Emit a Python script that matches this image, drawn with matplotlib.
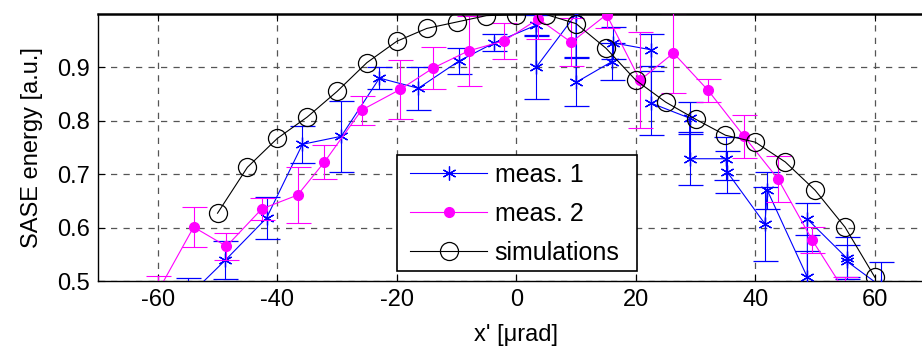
import numpy as np
import matplotlib.pyplot as plt
from matplotlib.lines import Line2D
from matplotlib.patches import Rectangle

plt.rcParams['font.family'] = ['Liberation Sans', 'DejaVu Sans']
plt.rcParams['axes.unicode_minus'] = False

# simulated SASE energy vs. angle
sim_x = [-50, -45, -40, -35, -30, -25, -20, -15, -10, -5, 0, 5,
         10, 15, 20, 25, 30, 35, 40, 45, 50, 55, 60]
sim_y = [0.627, 0.713, 0.767, 0.807, 0.855, 0.909, 0.949, 0.973, 0.985, 0.997, 0.999, 0.999,
         0.982, 0.936, 0.876, 0.835, 0.803, 0.773, 0.760, 0.723, 0.670, 0.601, 0.507]

# measurement 1 (two shots at most positions)
m1_x = [-55, -48.7, -41.8, -35.8, -29.3, -22.9, -16.4, -9.6, -3.7, 3.3, 3.3, 10, 10,
        16.0, 16.2, 22.6, 22.6, 29, 29, 35.1, 35.3, 41.6, 42, 48.7, 48.7, 55.3, 55.3, 61]
m1_y = [0.47, 0.539, 0.618, 0.756, 0.771, 0.880, 0.861, 0.912, 0.946, 0.979, 0.900, 1.0, 0.872,
        0.911, 0.946, 0.933, 0.833, 0.805, 0.729, 0.729, 0.704, 0.607, 0.670, 0.507, 0.616, 0.543, 0.537, 0.49]
m1_err = [0.036, 0.036, 0.04, 0.035, 0.066, 0.02, 0.04, 0.025, 0.016, 0.02, 0.06, 0.08, 0.045,
          0.035, 0.03, 0.03, 0.06, 0.03, 0.05, 0.04, 0.04, 0.07, 0.035, 0.05, 0.03, 0.04, 0.03, 0.045]

# measurement 2
m2_x = [-60, -54, -48.5, -42.6, -36.6, -32.1, -25.9, -19.4, -13.9, -8.0, -2.0,
        3.7, 9.2, 15.1, 20.7, 26.3, 32.1, 38.1, 43.8, 49.5, 55.0]
m2_y = [0.48, 0.601, 0.565, 0.635, 0.661, 0.723, 0.820, 0.859, 0.899, 0.931, 0.950,
        0.991, 0.947, 0.999, 0.876, 0.927, 0.857, 0.771, 0.691, 0.577, 0.48]
m2_err = [0.029, 0.038, 0.025, 0.02, 0.052, 0.032, 0.027, 0.055, 0.04, 0.065, 0.034,
          0.037, 0.045, 0.026, 0.09, 0.075, 0.022, 0.04, 0.043, 0.025, 0.028]

BLUE = '#0000ff'
MAG = '#ff00ff'
STAR = (6, 2, 0)

fig = plt.figure(figsize=(9.22, 3.49), dpi=100)
ax = fig.add_axes([0.1063, 0.1948, 0.9074, 0.765])

ax.errorbar(m1_x, m1_y, yerr=m1_err, color=BLUE, elinewidth=0.8, lw=0.8,
            marker=STAR, ms=10, mew=0.9, capsize=9, capthick=0.8, zorder=3)
ax.errorbar(m2_x, m2_y, yerr=m2_err, color=MAG, elinewidth=0.8, lw=0.8,
            marker='o', ms=7, capsize=9, capthick=0.8, zorder=4)
ax.plot(sim_x, sim_y, color='k', lw=0.8, marker='o', ms=13, mfc='none', mec='k',
        mew=0.9, zorder=5)

ax.set_xlim(-70, 70)
ax.set_ylim(0.5, 1.0)
ax.set_xticks(np.arange(-60, 61, 20))
ax.set_yticks([0.5, 0.6, 0.7, 0.8, 0.9])
ax.grid(True, color='#555555', linestyle=(0, (5, 5)), linewidth=0.9)
ax.tick_params(direction='in', length=5, labelsize=17, top=True, right=True, pad=6)
for s in ax.spines.values():
    s.set_linewidth(1.0)
ax.spines['top'].set_linewidth(1.8)

ax.set_xlabel("x' [\u03bcrad]", fontsize=17, labelpad=9)
ax.set_ylabel('SASE energy [a.u.]', fontsize=17, labelpad=10)

# legend: own box so the padding can differ left/right vs. top/bottom
box = Rectangle((0.357, 0.0375), 0.287, 0.434, transform=ax.transAxes,
                facecolor='white', edgecolor='k', lw=1.2, zorder=6)
ax.add_patch(box)
handles = [
    Line2D([], [], color=BLUE, lw=0.8, marker=STAR, ms=10, mew=0.9),
    Line2D([], [], color=MAG, lw=0.8, marker='o', ms=7),
    Line2D([], [], color='k', lw=0.8, marker='o', ms=13, mfc='none', mew=0.9),
]
leg = ax.legend(handles, ['meas. 1', 'meas. 2', 'simulations'],
                loc='upper left', bbox_to_anchor=(0.357, 0.494), borderaxespad=0,
                fontsize=18, handlelength=3.05, handletextpad=0.32, labelspacing=0.6,
                borderpad=0.55, frameon=False)
leg.set_zorder(7)

fig.savefig('out.png', dpi=100)
